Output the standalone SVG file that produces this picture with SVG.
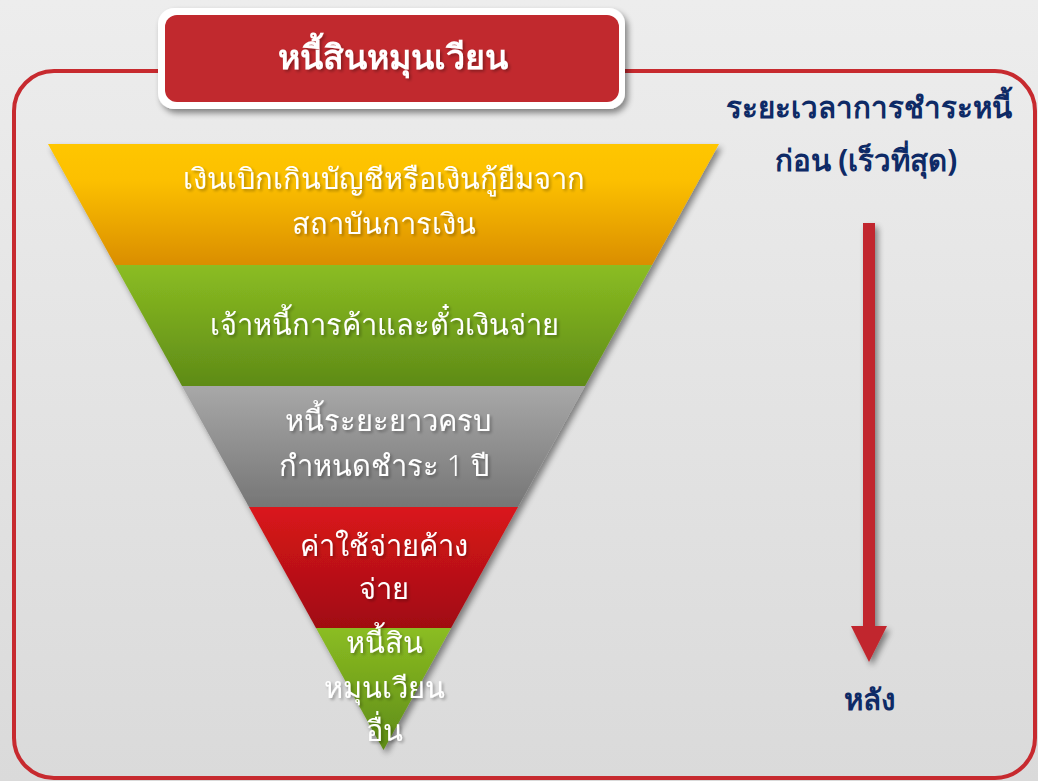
<svg xmlns="http://www.w3.org/2000/svg" width="1038" height="781" viewBox="0 0 1038 781">
<defs>
<linearGradient id="bg" x1="0" y1="0" x2="0" y2="1"><stop offset="0" stop-color="#EDEDED"/><stop offset="1" stop-color="#DADADA"/></linearGradient>
<linearGradient id="gY" x1="0" y1="0" x2="0" y2="1"><stop offset="0" stop-color="#FFC600"/><stop offset="0.3" stop-color="#FCC000"/><stop offset="1" stop-color="#DA8E00"/></linearGradient>
<linearGradient id="gG" x1="0" y1="0" x2="0" y2="1"><stop offset="0" stop-color="#8BBD22"/><stop offset="1" stop-color="#5E8B17"/></linearGradient>
<linearGradient id="gS" x1="0" y1="0" x2="0" y2="1"><stop offset="0" stop-color="#A8A8A8"/><stop offset="1" stop-color="#767676"/></linearGradient>
<linearGradient id="gR" x1="0" y1="0" x2="0" y2="1"><stop offset="0" stop-color="#DA151B"/><stop offset="1" stop-color="#A00D11"/></linearGradient>
<filter id="sh" x="-20%" y="-20%" width="140%" height="140%"><feGaussianBlur in="SourceAlpha" stdDeviation="3"/><feOffset dx="3" dy="4"/><feComponentTransfer><feFuncA type="linear" slope="0.45"/></feComponentTransfer><feMerge><feMergeNode/><feMergeNode in="SourceGraphic"/></feMerge></filter>
<filter id="tsh" x="-10%" y="-30%" width="120%" height="160%"><feGaussianBlur in="SourceAlpha" stdDeviation="1.5"/><feOffset dx="1.5" dy="2"/><feComponentTransfer><feFuncA type="linear" slope="0.3"/></feComponentTransfer><feMerge><feMergeNode/><feMergeNode in="SourceGraphic"/></feMerge></filter>
</defs>
<style>
.band{font-family:"Noto Sans","DejaVu Sans",sans-serif;font-size:29px;font-weight:300;fill:#FFFFFF;text-anchor:middle}
.navy{font-family:"Noto Sans","DejaVu Sans",sans-serif;font-size:29.5px;font-weight:bold;fill:#0E2A66;text-anchor:middle}
.title{font-family:"Noto Sans","DejaVu Sans",sans-serif;font-size:34px;font-weight:bold;fill:#FFFFFF;text-anchor:middle}
</style>
<rect width="1038" height="781" fill="url(#bg)"/>
<g id="frame">
<rect x="14" y="71" width="1021" height="707" rx="40" ry="40" fill="none" stroke="#C72A2F" stroke-width="4"/>
</g>
<g id="title">
<rect x="158" y="8" width="467" height="101" rx="16" ry="16" fill="#FFFFFF" filter="url(#sh)"/>
<rect x="165" y="15" width="454" height="87" rx="12" ry="12" fill="#C1292E"/>
<text class="title" x="393" y="69" filter="url(#tsh)">หนี้สินหมุนเวียน</text>
</g>
<g id="funnel" filter="url(#sh)">
<g id="band1"><polygon points="48,144 719,144 652,265 115,265" fill="url(#gY)"/></g>
<g id="band2"><polygon points="115,265 652,265 585,386 182,386" fill="url(#gG)"/></g>
<g id="band3"><polygon points="182,386 585,386 518,507 249,507" fill="url(#gS)"/></g>
<g id="band4"><polygon points="249,507 518,507 451,628 316,628" fill="url(#gR)"/></g>
<g id="band5"><polygon points="316,628 451,628 383.5,750" fill="url(#gG)"/></g>
</g>
<g id="labels" filter="url(#tsh)">
<text class="band" x="384" y="189">เงินเบิกเกินบัญชีหรือเงินกู้ยืมจาก</text>
<text class="band" x="384" y="234">สถาบันการเงิน</text>
<text class="band" x="384" y="335">เจ้าหนี้การค้าและตั๋วเงินจ่าย</text>
<text class="band" x="388" y="431">หนี้ระยะยาวครบ</text>
<text class="band" x="384" y="476">กำหนดชำระ 1 ปี</text>
<text class="band" x="384" y="556">ค่าใช้จ่ายค้าง</text>
<text class="band" x="384" y="599">จ่าย</text>
<text class="band" x="384" y="653">หนี้สิน</text>
<text class="band" x="384" y="698">หมุนเวียน</text>
<text class="band" x="384" y="741">อื่น</text>
</g>
<g id="timing">
<text class="navy" x="869" y="118">ระยะเวลาการชำระหนี้</text>
<text class="navy" x="866" y="171">ก่อน (เร็วที่สุด)</text>
</g>
<g id="connectors">
<polygon points="863,223 875,223 875,626 887,626 869,662 851,626 863,626" fill="#C1272D" filter="url(#sh)"/>
</g>
<g id="later">
<text class="navy" x="869" y="710">หลัง</text>
</g>
</svg>
